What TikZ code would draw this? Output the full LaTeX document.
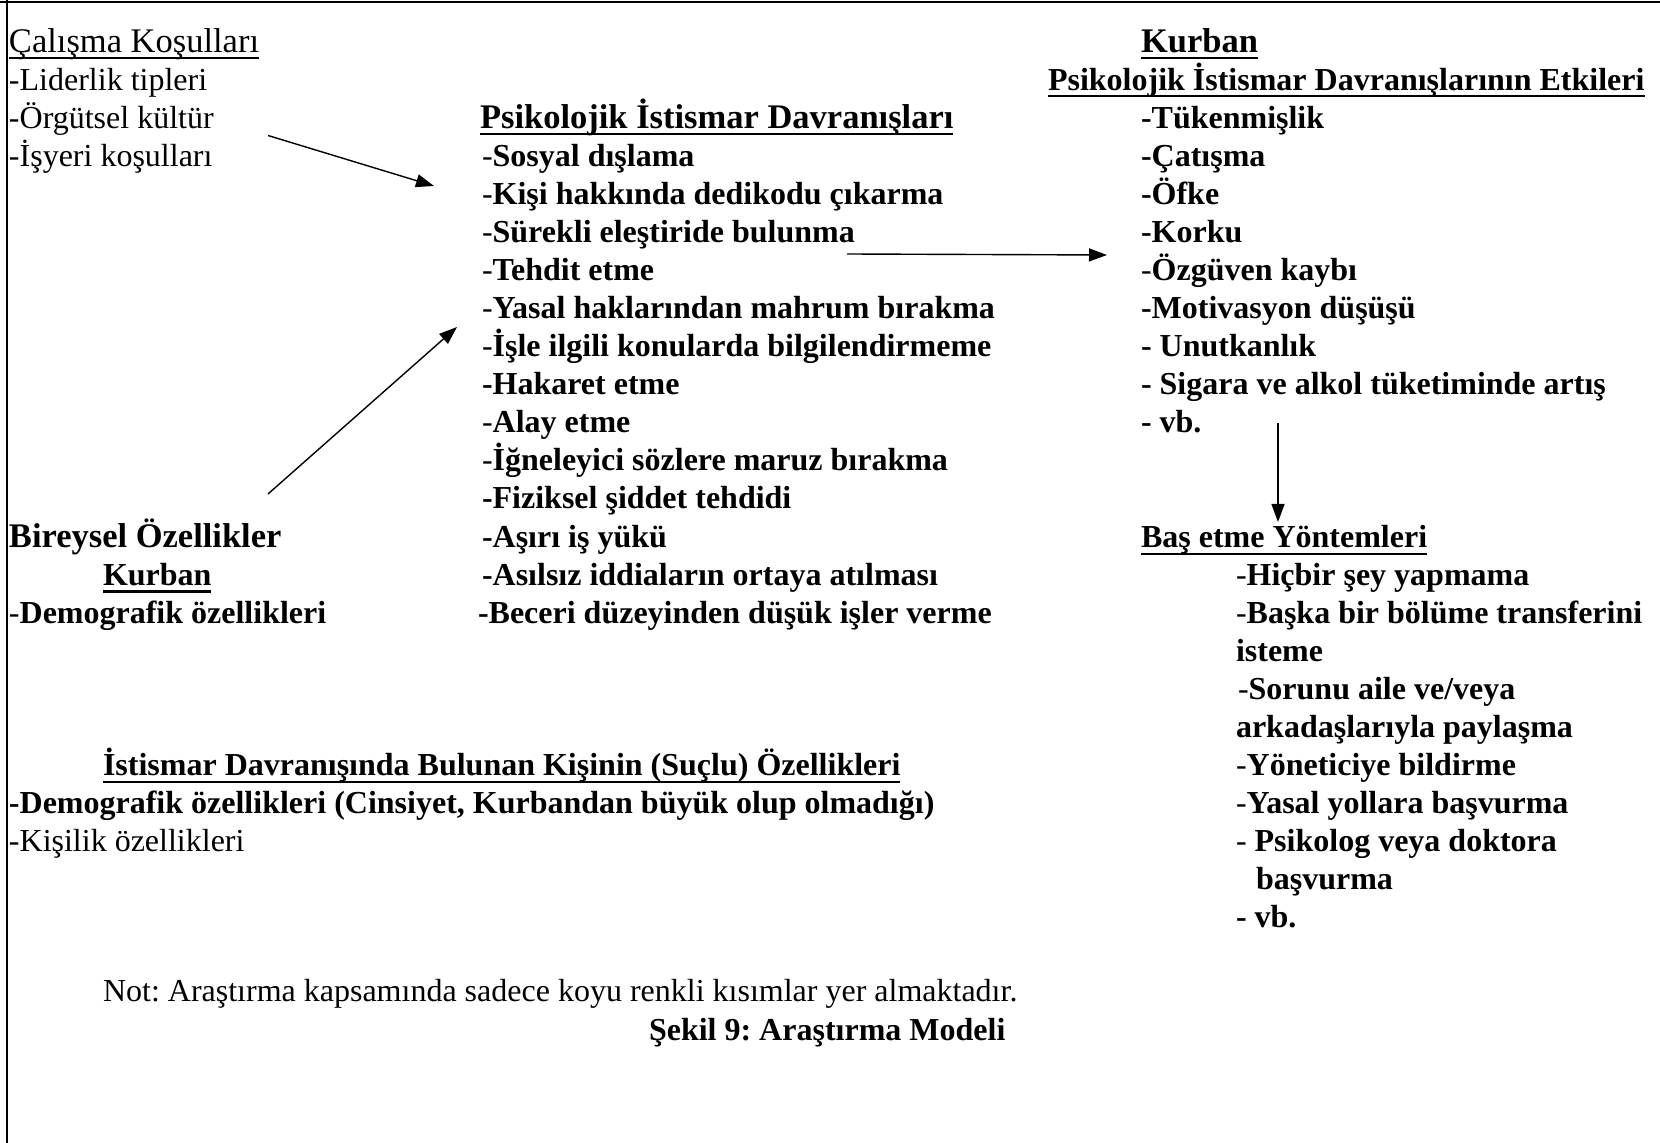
\documentclass[tikz,border=0pt]{standalone}
\usepackage{fontspec}
\setmainfont{Liberation Serif}
\usetikzlibrary{arrows.meta}
\frenchspacing
\newcommand{\bodyfont}{\fontsize{16pt}{19pt}\selectfont}
\newcommand{\headfont}{\fontsize{17.25pt}{20pt}\selectfont}
\newcommand{\rhy}{{\mdseries -}}
\begin{document}
\begin{tikzpicture}[x=0.5pt,y=-0.5pt,
  tx/.style={anchor=base west, inner sep=0pt, outer sep=0pt, font=\bodyfont},
  bx/.style={tx, font=\bodyfont\bfseries},
  hd/.style={tx, font=\headfont},
  hb/.style={tx, font=\headfont\bfseries},
  ulb/.style={line width=1.2pt},
  ulr/.style={line width=0.8pt},
  arr/.style={-{Triangle[length=9pt,width=6.5pt]}, line width=0.7pt},
  frame/.style={line width=1.25pt}]
\useasboundingbox (0,0) rectangle (1660,1143);
\draw[frame] (0,2) -- (1660,2);
\draw[frame] (7,0) -- (7,1143);

% left column
\node[hd] (cal) at (9,52.2) {Çalışma Koşulları};
\node[tx] (l1) at (9,90.3) {-Liderlik tipleri};
\node[tx] (l2) at (9,128.3) {-Örgütsel kültür};
\node[tx] (l3) at (9,166.4) {-İşyeri koşulları};
\node[hb] (bir) at (9,548) {Bireysel Özellikler};
\node[bx] (kur2) at (103,585.5) {Kurban};
\node[bx] (dem1) at (9,623.5) {\rhy Demografik özellikleri};
\node[bx] (sucl) at (103,775.8) {İstismar Davranışında Bulunan Kişinin (Suçlu) Özellikleri};
\node[bx] (dem2) at (9,813.4) {-Demografik özellikleri (Cinsiyet, Kurbandan büyük olup olmadığı)};
\node[tx] (kis) at (9,851.5) {-Kişilik özellikleri};
\node[tx] (not) at (103,1001) {Not: Araştırma kapsamında sadece koyu renkli kısımlar yer almaktadır.};
\node[bx] (sek) at (649,1040) {Şekil 9: Araştırma Modeli};

% centre column
\node[hb] (psi) at (480,128.3) {Psikolojik İstismar Davranışları};
\node[bx] (c3) at (482,166.4) {\rhy Sosyal dışlama};
\node[bx] (c4) at (482,204.4) {\rhy Kişi hakkında dedikodu çıkarma};
\node[bx] (c5) at (482,242.5) {\rhy Sürekli eleştiride bulunma};
\node[bx] (c6) at (482,280.6) {\rhy Tehdit etme};
\node[bx] (c7) at (482,318.6) {\rhy Yasal haklarından mahrum bırakma};
\node[bx] (c8) at (482,356.7) {\rhy İşle ilgili konularda bilgilendirmeme};
\node[bx] (c9) at (482,394.7) {-Hakaret etme};
\node[bx] (c10) at (482,432.8) {\rhy Alay etme};
\node[bx] (c11) at (482,470.9) {\rhy İğneleyici sözlere maruz bırakma};
\node[bx] (c12) at (482,508.9) {-Fiziksel şiddet tehdidi};
\node[bx] (c13) at (482,548) {-Aşırı iş yükü};
\node[bx] (c14) at (482,585.5) {-Asılsız iddiaların ortaya atılması};
\node[bx] (c15) at (478,623.5) {-Beceri düzeyinden düşük işler verme};

% right column
\node[hb] (kur1) at (1141,52.2) {Kurban};
\node[bx] (etk) at (1048,90.3) {Psikolojik İstismar Davranışlarının Etkileri};
\node[bx] (r2) at (1141,128.3) {-Tükenmişlik};
\node[bx] (r3) at (1141,166.4) {-Çatışma};
\node[bx] (r4) at (1141,204.4) {-Öfke};
\node[bx] (r5) at (1141,242.5) {-Korku};
\node[bx] (r6) at (1141,280.6) {\rhy Özgüven kaybı};
\node[bx] (r7) at (1141,318.6) {-Motivasyon düşüşü};
\node[bx] (r8) at (1141,356.7) {- Unutkanlık};
\node[bx] (r9) at (1141,394.7) {- Sigara ve alkol tüketiminde artış};
\node[bx] (r10) at (1141,432.8) {- vb.};
\node[bx] (bas) at (1141,548) {Baş etme Yöntemleri};
\node[bx] (b1) at (1236,585.5) {\rhy Hiçbir şey yapmama};
\node[bx] (b2) at (1236,623.5) {\rhy Başka bir bölüme transferini};
\node[bx] (b2b) at (1236,661.2) {isteme};
\node[bx] (b3) at (1238,699.2) {\rhy Sorunu aile ve/veya};
\node[bx] (b3b) at (1236,737.3) {arkadaşlarıyla paylaşma};
\node[bx] (b4) at (1236,775.8) {\rhy Yöneticiye bildirme};
\node[bx] (b5) at (1236,813.4) {\rhy Yasal yollara başvurma};
\node[bx] (b6) at (1236,851.5) {\rhy\ Psikolog veya doktora};
\node[bx] (b6b) at (1256,889.5) {başvurma};
\node[bx] (b7) at (1236,927.6) {- vb.};

% underlines
\foreach \n in {psi,kur1,etk,kur2,bas,sucl}{
  \draw[ulb] ([yshift=-3pt]\n.base west) -- ([yshift=-3pt]\n.base east);
}
\draw[ulr] ([yshift=-3pt]cal.base west) -- ([yshift=-3pt]cal.base east);

% arrows
\coordinate (a1s) at (268,135.5);
\coordinate (a1e) at (434,186);
\coordinate (a2s) at (268,494);
\coordinate (a2e) at (457,327);
\coordinate (a3s) at (847,254);
\coordinate (a3e) at (1107,255);
\coordinate (a4s) at (1278,423.5);
\coordinate (a4e) at (1278,522);
\draw[arr] (a1s) -- (a1e);
\draw[arr] (a2s) -- (a2e);
\draw[arr] (a3s) -- (a3e);
\draw[arr] (a4s) -- (a4e);
\end{tikzpicture}
\end{document}
